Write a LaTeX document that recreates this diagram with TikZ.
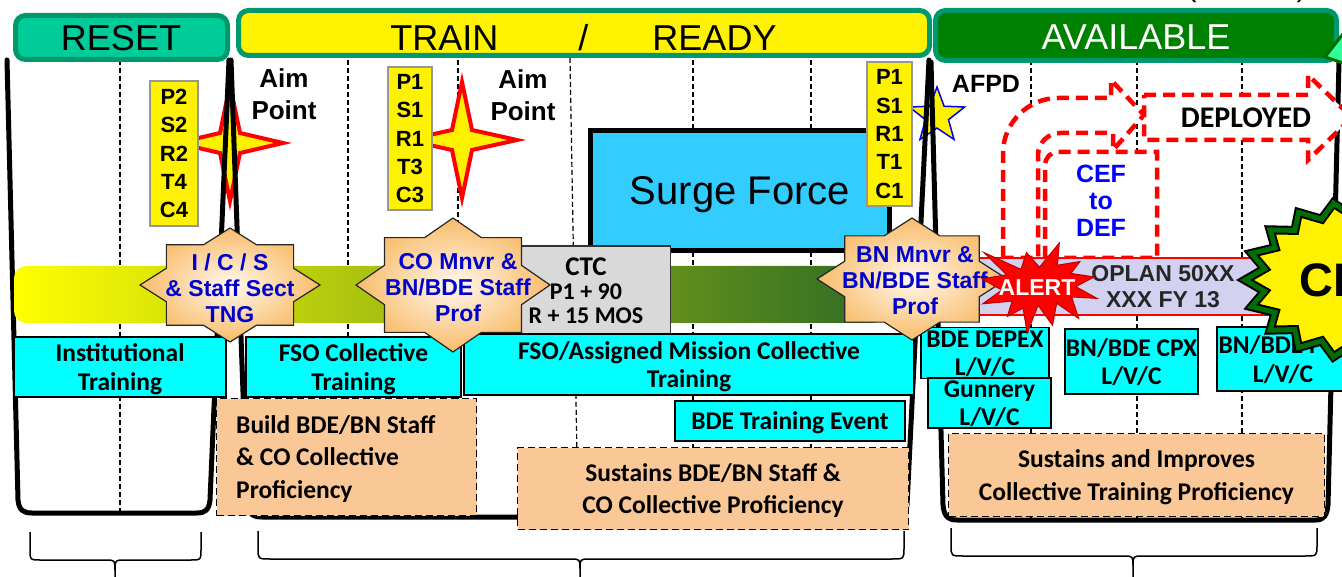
\documentclass[tikz,border=0pt]{standalone}
\usepackage{fontspec}
\setmainfont{Liberation Sans}
\newfontfamily\calib{Carlito}
\usetikzlibrary{shapes.geometric}

\definecolor{hdrborder}{RGB}{0,153,110}
\definecolor{resetfill}{RGB}{0,204,153}
\definecolor{availfill}{RGB}{0,128,0}
\definecolor{cyanbox}{RGB}{0,255,255}
\definecolor{surgefill}{RGB}{51,204,255}
\definecolor{orangebox}{RGB}{250,200,150}
\definecolor{ctcgray}{RGB}{217,217,217}
\definecolor{starblue}{RGB}{0,0,204}
\definecolor{oplanfill}{RGB}{210,210,240}
\definecolor{boxgray}{RGB}{150,150,150}
\definecolor{barmid}{RGB}{165,190,100}
\definecolor{barright}{RGB}{46,107,36}
\definecolor{starorange}{RGB}{248,188,105}
\definecolor{starcenter}{RGB}{255,248,238}
\definecolor{alertedge}{RGB}{190,0,0}
\definecolor{ceborder}{RGB}{0,110,0}
\definecolor{trifill}{RGB}{51,255,153}

\newcommand{\fsz}[2]{\fontsize{#1}{#2}\selectfont}

\tikzset{
  hdrbox/.style={draw=hdrborder, line width=5pt, rounded corners=10pt, inner sep=0pt},
  hdrtext/.style={anchor=base, font=\fsz{36}{36}, inner sep=0pt},
  panelline/.style={line width=5pt, line join=round, line cap=round},
  vdash/.style={line width=1.2pt, dash pattern=on 5pt off 3pt},
  codebox/.style={draw=boxgray, fill=yellow, line width=2pt, inner sep=0pt, align=center, text depth=0pt, font=\bfseries\fsz{22}{28.3}},
  aimtext/.style={align=center, font=\bfseries\fsz{26}{32}, inner sep=0pt, text depth=0pt},
  cyanlbl/.style={draw=black, fill=cyanbox, line width=1.8pt, inner sep=0pt, align=center, text depth=0pt, font=\calib\bfseries\fsz{25.5}{28.5}},
  dashbox/.style={draw=black, fill=orangebox, line width=1.5pt, dash pattern=on 7pt off 4pt, inner sep=0pt, text depth=0pt, font=\calib\bfseries\fsz{25.5}{32.5}},
  startext/.style={align=center, text=starblue, font=\bfseries\fsz{23}{26}, inner sep=0pt, text depth=0pt},
  eightstar/.style={draw=black!85, line width=1.2pt, inner color=starcenter, outer color=starorange},
  fourstar/.style={draw=red, fill=yellow, line width=4pt},
  reddash/.style={draw=red, fill=white, line width=4.5pt, dash pattern=on 12pt off 7pt},
  bracepath/.style={line width=1.5pt, line join=round},
}

\newcommand{\drawstareight}[5]{%
  \path[#5] (#1,#2-#4) -- (#1+0.293*#3,#2-0.707*#4) -- (#1+0.707*#3,#2-0.707*#4) -- (#1+0.707*#3,#2-0.293*#4) -- (#1+#3,#2) -- (#1+0.707*#3,#2+0.293*#4) -- (#1+0.707*#3,#2+0.707*#4) -- (#1+0.293*#3,#2+0.707*#4) -- (#1,#2+#4) -- (#1-0.293*#3,#2+0.707*#4) -- (#1-0.707*#3,#2+0.707*#4) -- (#1-0.707*#3,#2+0.293*#4) -- (#1-#3,#2) -- (#1-0.707*#3,#2-0.293*#4) -- (#1-0.707*#3,#2-0.707*#4) -- (#1-0.293*#3,#2-0.707*#4) -- cycle;}

\newcommand{\drawfourstar}[6]{%
  \path[#6] (#1,#2-#4) -- (#1+#5,#2-#5) -- (#1+#3,#2) -- (#1+#5,#2+#5) -- (#1,#2+#4) -- (#1-#5,#2+#5) -- (#1-#3,#2) -- (#1-#5,#2-#5) -- cycle;}

\newcommand{\cestar}[1]{%
  \path[#1] (1245,280) \foreach \i in {1,...,35} { -- ({1352-ifthenelse(isodd(\i),0.83,1)*107*cos(\i*10)},{280-ifthenelse(isodd(\i),0.83,1)*78*sin(\i*10)}) } -- cycle;}

\begin{document}
\begin{tikzpicture}[x=1pt,y=-1pt]
\useasboundingbox (0,0) rectangle (1342,577);

% dashed column lines
\foreach \xx/\yb in {120/511, 348/515, 458/515, 693/515, 811/515, 1031/518, 1137/518, 1242/518} {
  \draw[vdash] (\xx,60) -- (\xx,\yb);
}
\draw[vdash] (570,58) -- (578,515);

% surge force
\node[draw=black, line width=5pt, fill=surgefill, minimum width=299pt, minimum height=120pt, inner sep=0pt] (surge) at (740,190.5) {};
\node[font=\fsz{40}{40}, inner sep=0pt, text depth=0pt] (surgelbl) at (740,191) {Surge Force};

% stars behind lines
\drawfourstar{230}{143}{53}{58}{10}{fourstar}
\drawfourstar{462}{140}{55}{58}{10}{fourstar}
\node[star, star points=5, star point ratio=2.4, minimum size=58pt, inner sep=0pt, fill=yellow, draw=blue, line width=1.5pt] (bstar) at (937,116) {};

% panel outlines
\draw[panelline] (7,60) -- (18,500) .. controls (19,510) and (23,513) .. (32,513) -- (197,513) .. controls (205,513) and (209,510) .. (210,500) -- (229,60);
\draw[panelline] (231,60) -- (247,503) .. controls (248,513) and (252,517) .. (262,517) -- (895,517) .. controls (903,517) and (906,513) .. (907,505) -- (929,60);
\draw[panelline] (931,62) -- (943,505) .. controls (944,515) and (947,520) .. (957,520) -- (1316,520) .. controls (1324,520) and (1327,515) .. (1328,505) -- (1339,62);

% headers
\node[hdrbox, fill=resetfill, minimum width=212pt, minimum height=44pt] (reset) at (121.5,37.5) {};
\node[hdrtext] (resetlbl) at (121,51) {RESET};
\node[hdrbox, fill=yellow, minimum width=691pt, minimum height=45pt] (train) at (584,33) {};
\node[hdrtext] (trainlbl) at (583.5,51) {TRAIN\hspace{80pt}/\hspace{64pt}READY};
\node[hdrbox, fill=availfill, minimum width=401pt, minimum height=50pt] (avail) at (1136,35.5) {};
\node[hdrtext, text=white] (availlbl) at (1136,50) {AVAILABLE};
\draw[fill=trifill, draw=ceborder, line width=3pt, line join=miter] (1325,57) -- (1346,30) -- (1346,64) -- cycle;
\node[anchor=base, font=\fsz{30}{30}, inner sep=0pt] (paren) at (1246.5,-3) {(\hspace{100pt})};

% gradient bar
\path[left color=yellow, middle color=barmid, right color=barright, rounded corners=12pt] (14,266) rectangle (885,323);

% code boxes
\node[codebox, minimum width=48pt, minimum height=145pt] (psr1) at (174,153.5) {P2\\S2\\R2\\T4\\C4};
\node[codebox, minimum width=44pt, minimum height=143pt] (psr2) at (410,138.5) {P1\\S1\\R1\\T3\\C3};
\node[codebox, minimum width=45pt, minimum height=144pt] (psr3) at (889.5,134) {P1\\S1\\R1\\T1\\C1};

% aim point texts
\node[aimtext] (aim1) at (284,94) {Aim\\Point};
\node[aimtext] (aim2) at (523,95.5) {Aim\\Point};
\node[font=\bfseries\fsz{25}{25}, inner sep=0pt, text depth=0pt] (afpd) at (986,84) {AFPD};

% red dashed arrows
\draw[reddash] (1003,258) -- (1003,153) .. controls (1003,123) and (1028,98) .. (1058,98) -- (1111,98) -- (1111,80) -- (1144,115) -- (1113,150) -- (1113,133) -- (1060,133) .. controls (1048,133) and (1038,143) .. (1038,155) -- (1038,258) -- cycle;
\draw[reddash] (1045,258) -- (1045,166) .. controls (1045,158) and (1050,152) .. (1058,152) -- (1157,152) -- (1157,258) -- cycle;
\node[align=center, text=blue, font=\bfseries\fsz{25}{27}, inner sep=0pt, text depth=0pt] (ceflbl) at (1101,201) {CEF\\to\\DEF};
\draw[reddash] (1144,95) -- (1308,95) -- (1308,75) -- (1352,117.5) -- (1308,160) -- (1308,140) -- (1144,140) -- cycle;
\node[font=\calib\bfseries\fsz{30}{30}, inner sep=0pt, text depth=0pt] (deplbl) at (1246,118) {DEPLOYED};

% OPLAN bar
\node[draw=red, line width=2pt, fill=oplanfill, minimum width=338pt, minimum height=57pt, inner sep=0pt] (oplan) at (1130,286.5) {};
\node[align=center, font=\bfseries\fsz{23}{26.5}, inner sep=0pt, text depth=0pt, text=black!85] (oplanlbl) at (1163,286.5) {OPLAN 50XX\\XXX FY 13};

% CTC
\node[draw=black!80, line width=1.5pt, fill=ctcgray, minimum width=150pt, minimum height=88pt, inner sep=0pt] (ctc) at (595.5,290) {};
\node[align=center, font=\calib\bfseries\fsz{24}{24}, inner sep=0pt, text depth=0pt] (ctclbl) at (586,290.5) {{\fsz{27}{24}CTC}\\P1 + 90\\R + 15 MOS};

% cyan boxes
\node[cyanlbl, minimum width=212pt, minimum height=60pt] (inst) at (120,367) {Institutional\\Training};
\node[cyanlbl, minimum width=215pt, minimum height=60pt] (fso) at (353.5,367) {FSO Collective\\Training};
\node[cyanlbl, minimum width=450pt, minimum height=61pt] (fsoa) at (689,364.5) {FSO/Assigned Mission Collective\\Training};
\node[cyanlbl, minimum width=230pt, minimum height=40pt] (bdeevt) at (790,421) {BDE Training Event};
\node[cyanlbl, minimum width=128pt, minimum height=51pt] (depex) at (985,353) {BDE DEPEX\\L/V/C};
\node[cyanlbl, minimum width=123pt, minimum height=50pt] (gunnery) at (989.5,403) {Gunnery\\L/V/C};
\node[cyanlbl, minimum width=133pt, minimum height=65pt] (cpx) at (1131.5,361.5) {BN/BDE CPX\\L/V/C};
\node[cyanlbl, minimum width=132pt, minimum height=64pt] (ftx) at (1283,359) {BN/BDE FTX\\L/V/C};

% orange dashed boxes
\node[dashbox, minimum width=260pt, minimum height=117pt] (build) at (346.5,457) {};
\node[anchor=west, align=left, font=\calib\bfseries\fsz{25.5}{32.5}, inner sep=0pt, text depth=0pt] (buildlbl) at (236,457) {Build BDE/BN Staff\\\& CO Collective\\Proficiency};
\node[dashbox, align=center, minimum width=391pt, minimum height=82pt] (sust1) at (713,488.5) {Sustains BDE/BN Staff \&\\CO Collective Proficiency};
\node[dashbox, align=center, minimum width=376pt, minimum height=83pt] (sust2) at (1136.5,475) {Sustains and Improves\\Collective Training Proficiency};

% eight point stars
\drawstareight{230}{285}{90}{57}{eightstar}
\node[startext] (ics) at (230,288) {I / C / S\\\& Staff Sect\\TNG};
\drawstareight{453}{285}{97}{67}{eightstar}
\node[startext] (comnvr) at (458,287.5) {CO Mnvr \&\\BN/BDE Staff\\Prof};
\drawstareight{912}{279}{95}{61}{eightstar}
\node[startext] (bnmnvr) at (915,281) {BN Mnvr \&\\BN/BDE Staff\\Prof};

% ALERT explosion
\begin{scope}[shift={(982,243)}, xscale=0.5324, yscale=0.4167]
\path[fill=red, draw=alertedge, line width=1pt] (108,58) -- (145.22,0) -- (141.55,53.25) -- (183.80,44.57) -- (167.02,73.15) -- (210.97,81.37) -- (176.07,104.75) -- (216,132.90) -- (168.37,129.42) -- (181.45,180.95) -- (140.20,144.57) -- (132.47,197.37) -- (105.32,149.35) -- (84.85,216) -- (77.15,156.27) -- (47.62,176.17) -- (56.67,139.37) -- (1.35,145.87) -- (37.22,113) -- (0,86.15) -- (46.27,76.17) -- (3.70,22.95) -- (73.12,63.20) -- (83.52,22.95) -- cycle;
\end{scope}
\node[font=\bfseries\fsz{23}{23}, text=white, inner sep=0pt, text depth=0pt] (alert) at (1037,288) {ALERT};

% CE seal
\cestar{fill=yellow, draw=black, line width=9pt, line join=miter}
\cestar{draw=ceborder, line width=5pt, line join=miter}
\node[anchor=base west, font=\bfseries\fsz{47}{47}, inner sep=0pt] (ce) at (1299,297) {CE};

% braces
\draw[bracepath] (30,532) -- (30,550) .. controls (30,560) .. (40,560) -- (105,560) .. controls (115,560) .. (115,570) -- (115,580);
\draw[bracepath] (201,532) -- (201,550) .. controls (201,560) .. (191,560) -- (125,560) .. controls (115,560) .. (115,570);
\draw[bracepath] (258,531) -- (258,548) .. controls (258,559) .. (270,559) -- (570,559) .. controls (580,559) .. (580,569) -- (580,580);
\draw[bracepath] (904,531) -- (904,548) .. controls (904,559) .. (892,559) -- (590,559) .. controls (580,559) .. (580,569);
\draw[bracepath] (951,528) -- (951,545) .. controls (951,556) .. (963,556) -- (1123,556) .. controls (1133,556) .. (1133,566) -- (1133,580);
\draw[bracepath] (1317,528) -- (1317,545) .. controls (1317,556) .. (1305,556) -- (1143,556) .. controls (1133,556) .. (1133,566);
\end{tikzpicture}
\end{document}
